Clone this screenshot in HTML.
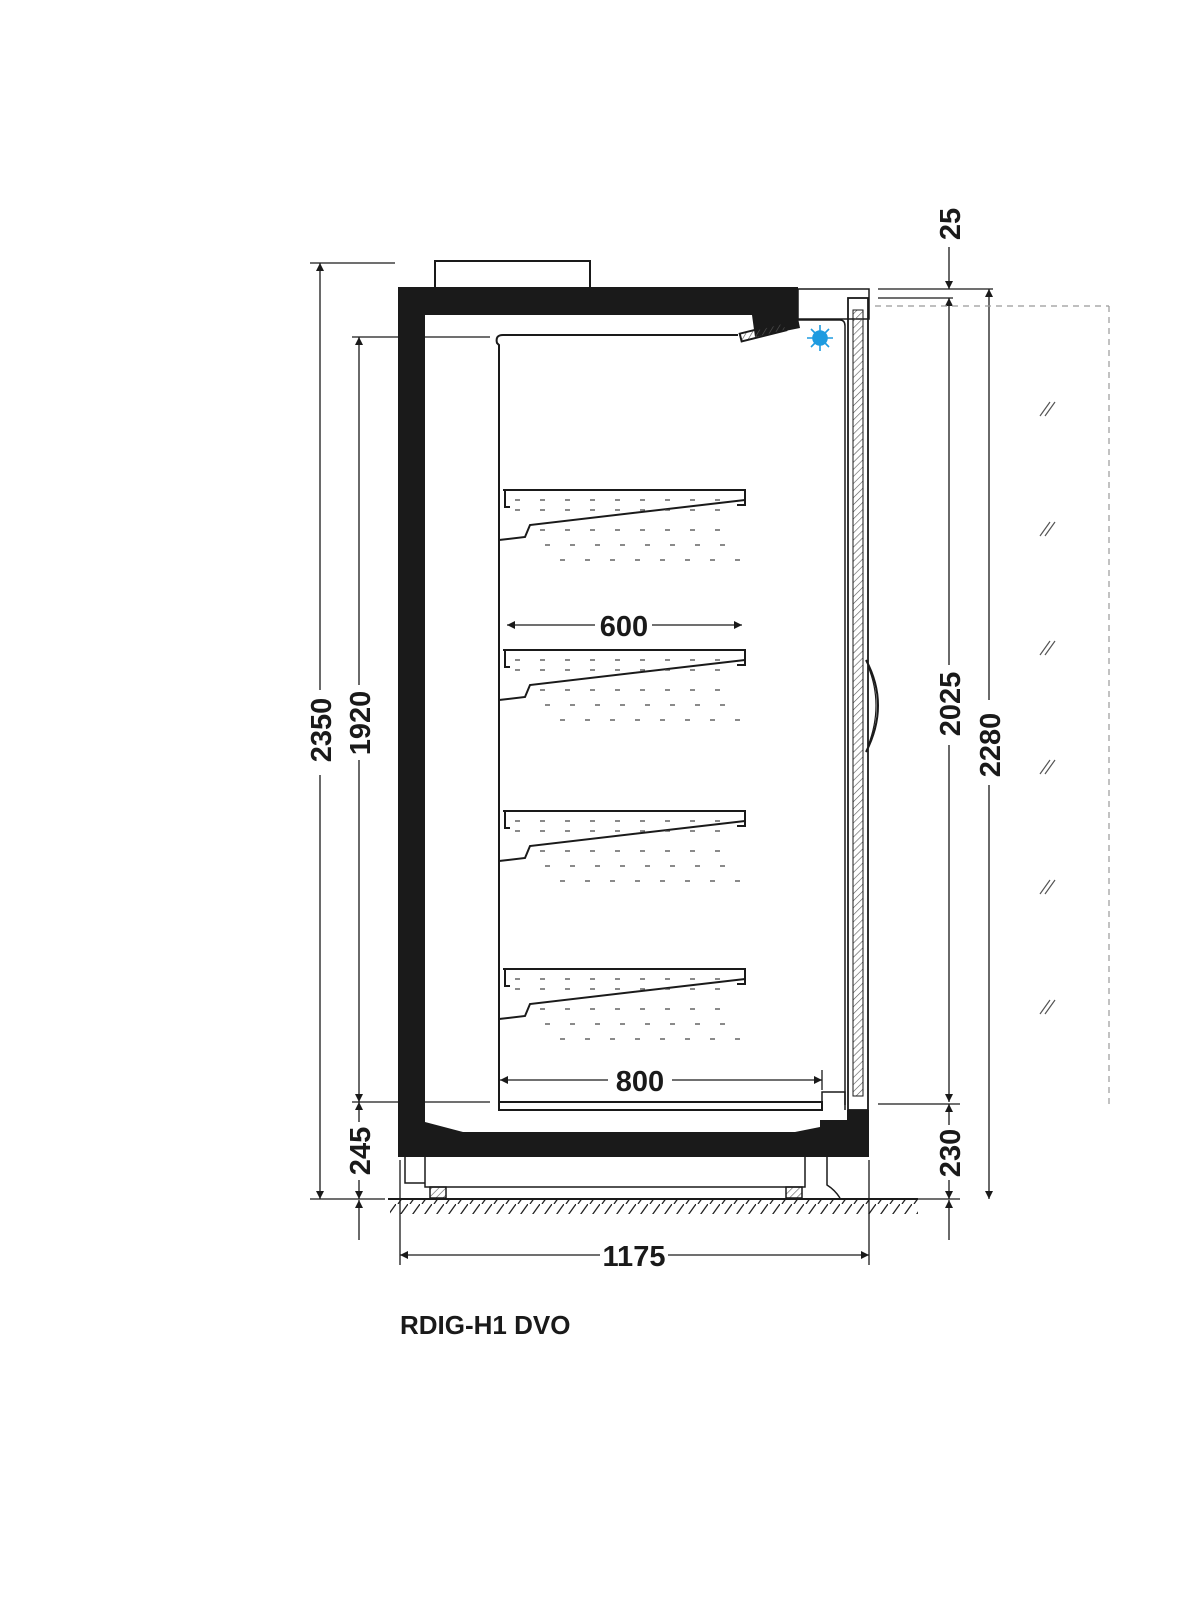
<!DOCTYPE html>
<html><head><meta charset="utf-8"><style>
html,body{margin:0;padding:0;background:#fff;}
svg{display:block}
text{font-family:"Liberation Sans",sans-serif;font-weight:bold;fill:#1a1a1a}
</style></head><body>
<svg width="1200" height="1600" viewBox="0 0 1200 1600" xmlns="http://www.w3.org/2000/svg">
<defs>
<marker id="a" viewBox="0 0 10 10" refX="10" refY="5" markerWidth="12" markerHeight="8" orient="auto-start-reverse" markerUnits="userSpaceOnUse"><path d="M0,0 L10,5 L0,10 z" fill="#1a1a1a"/></marker>
<pattern id="h" width="5" height="5" patternUnits="userSpaceOnUse" patternTransform="rotate(45)"><line x1="0" y1="0" x2="0" y2="5" stroke="#555" stroke-width="1.2"/></pattern>
<pattern id="fh" width="12" height="14" patternUnits="userSpaceOnUse"><line x1="2" y1="14" x2="12" y2="0" stroke="#222" stroke-width="1.3"/></pattern>
</defs>
<g stroke="#1a1a1a" fill="none" stroke-width="1.5">
<rect x="435" y="261" width="155" height="27" stroke-width="2"/>
<path d="M398,287 H798 V318 L800,328 L755,337 L752,315 H425 V1122 L463,1132 H795 L820,1127 V1120 H847 V1110 H869 V1157 H398 Z" fill="#1a1a1a" stroke="none"/>
<rect x="798" y="289" width="71" height="30" stroke-width="1.5"/>
<path d="M798,320 H840 Q845,320 845,326 V1105" stroke-width="1.5"/>
<rect x="740" y="328" width="46" height="8" transform="rotate(-14 763 332)" fill="url(#h)" stroke-width="2"/>
<rect x="848" y="298" width="20" height="812" stroke-width="1.8"/>
<rect x="853" y="310" width="10" height="786" fill="url(#h)" stroke-width="1"/>
<path d="M866,660 Q890,705 866,752" stroke-width="2"/>
<path d="M868,666 Q884,705 868,746" stroke-width="1.2"/>
<path d="M738,335 H503 Q495,335 497,343 L499,345 V1110" stroke-width="2"/>
<g id="s" stroke-width="2">
<path d="M503,490 H745 V505 H737"/>
<path d="M505,490 V507 H510"/>
<path d="M745,500 L530,525 L525,537 L499,540"/>
</g>
<use href="#s" y="160"/>
<use href="#s" y="321"/>
<use href="#s" y="479"/>
<g stroke-dasharray="5 20" stroke-width="1.3" stroke="#444">
<path d="M515,500 H740 M515,510 H740 M540,530 H740 M545,545 H740 M560,560 H740"/>
<path d="M515,660 H740 M515,670 H740 M540,690 H740 M545,705 H740 M560,720 H740"/>
<path d="M515,821 H740 M515,831 H740 M540,851 H740 M545,866 H740 M560,881 H740"/>
<path d="M515,979 H740 M515,989 H740 M540,1009 H740 M545,1024 H740 M560,1039 H740"/>
</g>
<rect x="499" y="1102" width="323" height="8" stroke-width="2"/>
<path d="M822,1102 V1092 H845 V1110" stroke-width="1.5"/>
<path d="M405,1157 V1183 H425 M425,1157 V1187 H805 V1157 M827,1157 V1185 Q835,1190 840,1198" stroke-width="1.5"/>
<rect x="430" y="1187" width="16" height="11" fill="url(#h)"/>
<rect x="786" y="1187" width="16" height="11" fill="url(#h)"/>
<line x1="388" y1="1199" x2="918" y2="1199" stroke-width="2"/>
<rect x="390" y="1200" width="528" height="14" fill="url(#fh)" stroke="none"/>
</g>
<g fill="#1e9be0" stroke="#1e9be0" stroke-width="1.6">
<circle cx="820" cy="338" r="7"/>
<path d="M820,325V351M807,338H833M811,329L829,347M829,329L811,347" fill="none"/>
</g>
<g stroke="#1a1a1a" stroke-width="1.3" fill="none">
<line x1="310" y1="263" x2="395" y2="263"/>
<line x1="310" y1="1199" x2="385" y2="1199"/>
<line x1="320" y1="263" x2="320" y2="690" marker-start="url(#a)"/>
<line x1="320" y1="775" x2="320" y2="1199" marker-end="url(#a)"/>
<line x1="352" y1="337" x2="490" y2="337"/>
<line x1="352" y1="1102" x2="490" y2="1102"/>
<line x1="359" y1="337" x2="359" y2="685" marker-start="url(#a)"/>
<line x1="359" y1="760" x2="359" y2="1102" marker-end="url(#a)"/>
<line x1="359" y1="1102" x2="359" y2="1122" marker-start="url(#a)"/>
<line x1="359" y1="1180" x2="359" y2="1199" marker-end="url(#a)"/>
<line x1="359" y1="1240" x2="359" y2="1200" marker-end="url(#a)"/>
<line x1="400" y1="1160" x2="400" y2="1265"/>
<line x1="869" y1="1160" x2="869" y2="1265"/>
<line x1="400" y1="1255" x2="600" y2="1255" marker-start="url(#a)"/>
<line x1="668" y1="1255" x2="869" y2="1255" marker-end="url(#a)"/>
<line x1="507" y1="625" x2="595" y2="625" marker-start="url(#a)"/>
<line x1="652" y1="625" x2="742" y2="625" marker-end="url(#a)"/>
<line x1="500" y1="1080" x2="608" y2="1080" marker-start="url(#a)"/>
<line x1="672" y1="1080" x2="822" y2="1080" marker-end="url(#a)"/>
<line x1="822" y1="1070" x2="822" y2="1090"/>
<line x1="878" y1="289" x2="993" y2="289"/>
<line x1="878" y1="298" x2="953" y2="298"/>
<line x1="949" y1="247" x2="949" y2="289" marker-end="url(#a)"/>
<line x1="949" y1="298" x2="949" y2="665" marker-start="url(#a)"/>
<line x1="949" y1="745" x2="949" y2="1102" marker-end="url(#a)"/>
<line x1="878" y1="1104" x2="960" y2="1104"/>
<line x1="949" y1="1104" x2="949" y2="1125" marker-start="url(#a)"/>
<line x1="949" y1="1180" x2="949" y2="1199" marker-end="url(#a)"/>
<line x1="949" y1="1240" x2="949" y2="1200" marker-end="url(#a)"/>
<line x1="880" y1="1199" x2="960" y2="1199"/>
<line x1="989" y1="289" x2="989" y2="700" marker-start="url(#a)"/>
<line x1="989" y1="785" x2="989" y2="1199" marker-end="url(#a)"/>
<g stroke="#999" stroke-dasharray="6 5" stroke-width="1.2">
<line x1="875" y1="306" x2="1109" y2="306"/>
<line x1="1109" y1="306" x2="1109" y2="1107"/>
</g>
<g stroke="#555" stroke-width="1.2">
<path d="M1040,416 L1050,402 M1045,416 L1055,402"/>
<path d="M1040,536 L1050,522 M1045,536 L1055,522"/>
<path d="M1040,655 L1050,641 M1045,655 L1055,641"/>
<path d="M1040,774 L1050,760 M1045,774 L1055,760"/>
<path d="M1040,894 L1050,880 M1045,894 L1055,880"/>
<path d="M1040,1014 L1050,1000 M1045,1014 L1055,1000"/>
</g>
</g>
<g font-size="29">
<text transform="translate(331,730) rotate(-90)" text-anchor="middle">2350</text>
<text transform="translate(370,723) rotate(-90)" text-anchor="middle">1920</text>
<text transform="translate(370,1151) rotate(-90)" text-anchor="middle">245</text>
<text x="634" y="1266" text-anchor="middle">1175</text>
<text x="624" y="636" text-anchor="middle">600</text>
<text x="640" y="1091" text-anchor="middle">800</text>
<text transform="translate(960,224) rotate(-90)" text-anchor="middle">25</text>
<text transform="translate(960,704) rotate(-90)" text-anchor="middle">2025</text>
<text transform="translate(1000,745) rotate(-90)" text-anchor="middle">2280</text>
<text transform="translate(960,1153) rotate(-90)" text-anchor="middle">230</text>
</g>
<text x="400" y="1334" font-size="26">RDIG-H1 DVO</text>
</svg>
</body></html>
